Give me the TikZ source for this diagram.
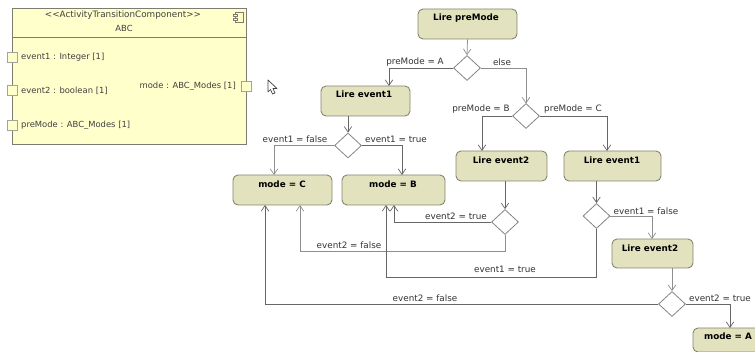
\documentclass[tikz,border=0pt]{standalone}
\usepackage{fontspec}
\setmainfont{DejaVu Sans}
\usetikzlibrary{shapes.geometric,arrows.meta}
\definecolor{compfill}{HTML}{FFFFCC}
\definecolor{actfill}{HTML}{E2E2BE}
\definecolor{actline}{HTML}{85856F}
\definecolor{compline}{HTML}{7C7C70}
\definecolor{conn}{HTML}{666666}
\definecolor{connlight}{HTML}{8E8E8E}
\tikzset{
  act/.style={draw=actline,fill=actfill,rounded corners=5pt,line width=0.9pt},
  acttext/.style={font=\fontsize{8.8}{10}\selectfont\bfseries,inner sep=0pt},
  dec/.style={diamond,draw=conn!80,fill=white,line width=0.8pt,minimum width=27pt,minimum height=25pt,inner sep=0pt,aspect=1.08},
  flow/.style={draw=conn,line width=0.75pt,-{Straight Barb[length=5.5pt,width=7.5pt,line width=0.7pt]}},
  flowl/.style={flow,draw=connlight},
  lab/.style={font=\fontsize{8.8}{10}\selectfont,text=black!80,inner sep=0pt},
  plab/.style={font=\fontsize{8.4}{9}\selectfont,text=black!75,inner sep=0pt},
  port/.style={draw=compline!70,fill=compfill,line width=0.7pt,minimum width=10pt,minimum height=10pt,inner sep=0pt}
}
\begin{document}
\begin{tikzpicture}[x=1pt,y=-1pt]
\useasboundingbox (0,0) rectangle (755,352);
\clip (0,0) rectangle (755,352);
% component
\node[draw=compline,fill=compfill,line width=0.9pt,minimum width=234pt,minimum height=136pt,inner sep=0pt] (comp) at (129,76) {};
\coordinate (dl) at (12,37);
\coordinate (dr) at (246,37);
\draw[compline,line width=0.8pt] (dl) -- (dr);
\node[plab,font=\fontsize{8.8}{9}\selectfont] (st) at (123,15.5) {<{}<ActivityTransitionComponent>{}>};
\node[plab] (cn) at (124,28) {ABC};
\node[port] (p1) at (12,57) {};
\node[port] (p2) at (12,90) {};
\node[port] (p3) at (12,125) {};
\node[port] (p4) at (246,86.5) {};
\node[plab,anchor=west] (l1) at (21,57) {event1 : Integer [1]};
\node[plab,anchor=west] (l2) at (21,91) {event2 : boolean [1]};
\node[plab,anchor=west] (l3) at (21,125) {preMode : ABC\_Modes [1]};
\node[plab,anchor=east] (l4) at (236,86) {mode : ABC\_Modes [1]};
\draw[compline,line width=0.6pt] (235,12) rectangle (243,22);
\draw[compline,line width=0.6pt,fill=compfill] (233,14) rectangle (237,16.5);
\draw[compline,line width=0.6pt,fill=compfill] (233,18) rectangle (237,20.5);
% cursor
\draw[black!75,fill=white,line width=0.7pt,line join=round] (268,80) -- (268,92) -- (270.5,89.5) -- (272.5,94) -- (275,93) -- (273,88.5) -- (277,88.5) -- cycle;
% activities
\node[act,minimum width=99pt,minimum height=30pt,inner sep=0pt] (pm) at (467.5,24) {};
\node[act,minimum width=89pt,minimum height=30pt,inner sep=0pt] (e1a) at (365.5,101) {};
\node[act,minimum width=91pt,minimum height=30pt,inner sep=0pt] (e2a) at (501.5,166) {};
\node[act,minimum width=97pt,minimum height=30pt,inner sep=0pt] (e1b) at (612.5,166) {};
\node[act,minimum width=81pt,minimum height=29pt,inner sep=0pt] (e2b) at (652.5,253.5) {};
\node[act,minimum width=99pt,minimum height=30pt,inner sep=0pt] (mc) at (282.5,190) {};
\node[act,minimum width=103pt,minimum height=30pt,inner sep=0pt] (mb) at (393.5,190) {};
\node[act,minimum width=72pt,minimum height=24pt,inner sep=0pt] (ma) at (729,340) {};
\node[acttext] (tpm) at (466,18) {Lire preMode};
\node[acttext] (te1a) at (364,94.5) {Lire event1};
\node[acttext] (te2a) at (501,160) {Lire event2};
\node[acttext] (te1b) at (612,160) {Lire event1};
\node[acttext] (te2b) at (650,248) {Lire event2};
\node[acttext] (tmc) at (282,184) {mode = C};
\node[acttext] (tmb) at (393,184) {mode = B};
\node[acttext] (tma) at (728,336) {mode = A};
% decisions
\node[dec] (d1) at (467,68) {};
\node[dec] (d2) at (526,116) {};
\node[dec] (d3) at (348,145.5) {};
\node[dec] (d4) at (505,222) {};
\node[dec] (d5) at (596.5,216) {};
\node[dec] (d6) at (672,304) {};
% arrow targets
\coordinate (ta) at (389,86);
\coordinate (tb) at (526,103.5);
\coordinate (tc) at (482,151);
\coordinate (td) at (607,151);
\coordinate (te) at (274,175);
\coordinate (tf) at (402,175);
\coordinate (tg) at (394,205);
\coordinate (th) at (300,205);
\coordinate (ti) at (386,205);
\coordinate (tj) at (265,205);
\coordinate (tk) at (652,239);
\coordinate (tl) at (730,328);
\coordinate (s1) at (505,251);
\coordinate (s2) at (596.5,277);
% connectors
\draw[flowl] (pm.south) -- (d1.north);
\draw[flow] (d1.west) -| (ta);
\draw[flowl] (d1.east) -| (tb);
\draw[flow] (d2.west) -| (tc);
\draw[flow] (d2.east) -| (td);
\draw[flow] (e1a.south -| d3.north) -- (d3.north);
\draw[flowl] (d3.west) -| (te);
\draw[flow] (d3.east) -| (tf);
\draw[flow] (e2a.south -| d4.north) -- (d4.north);
\draw[flow] (d4.west) -| (tg);
\draw[flowl] (d4.south) -- (s1) -| (th);
\draw[flow] (e1b.south -| d5.north) -- (d5.north);
\draw[flowl] (d5.east) -| (tk);
\draw[flow] (d5.south) -- (s2) -| (ti);
\draw[flowl] (e2b.south -| d6.north) -- (d6.north);
\draw[flow] (d6.west) -| (tj);
\draw[flow] (d6.east) -| (tl);
% labels
\node[lab] (a1) at (415,62) {preMode = A};
\node[lab] (a2) at (502,62.5) {else};
\node[lab] (a3) at (481,109.5) {preMode = B};
\node[lab] (a4) at (573,109.5) {preMode = C};
\node[lab] (a5) at (295,139) {event1 = false};
\node[lab] (a6) at (396,139) {event1 = true};
\node[lab] (a7) at (456,216) {event2 = true};
\node[lab] (a8) at (349,245) {event2 = false};
\node[lab] (a9) at (505,269) {event1 = true};
\node[lab] (a10) at (646,211) {event1 = false};
\node[lab] (a11) at (425,298.5) {event2 = false};
\node[lab] (a12) at (720,298.5) {event2 = true};
\end{tikzpicture}
\end{document}
